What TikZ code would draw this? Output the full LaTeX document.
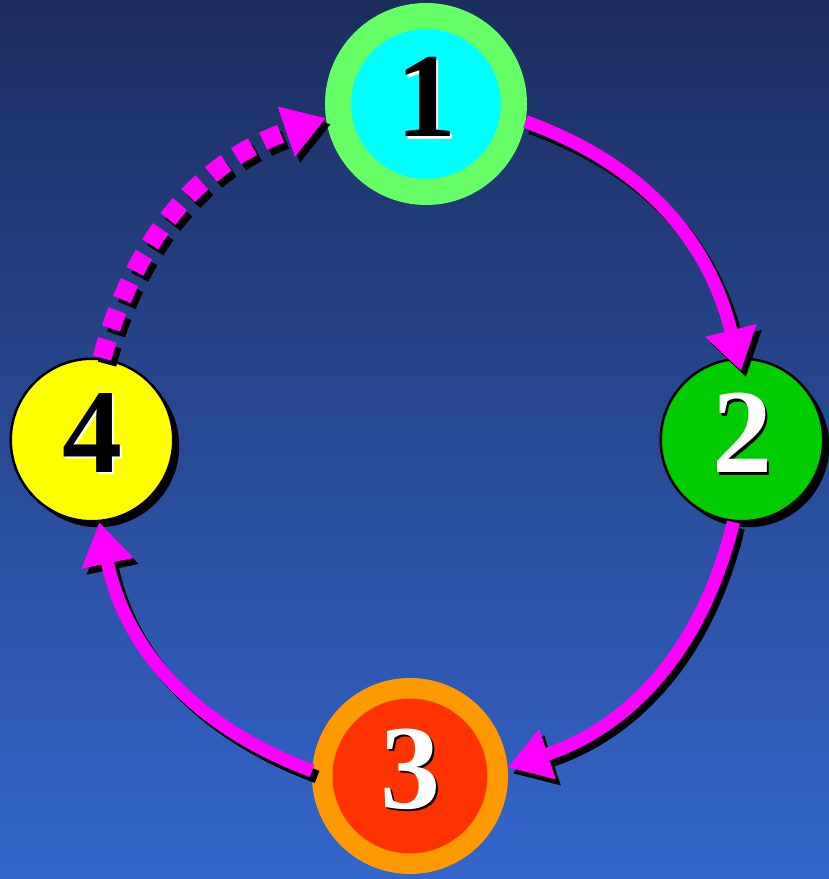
\documentclass[tikz,border=0pt]{standalone}
\usepackage{fontspec}
\setmainfont{Liberation Serif}
\usetikzlibrary{arrows.meta,shadows}
\definecolor{bgtop}{HTML}{1C2D5E}
\definecolor{bgbot}{HTML}{3366CC}
\definecolor{ringgreen}{HTML}{66FF66}
\definecolor{aqua}{HTML}{00FFFF}
\definecolor{leaf}{HTML}{00CC00}
\definecolor{ringorange}{HTML}{FF9900}
\definecolor{redorange}{HTML}{FF3300}
\definecolor{mag}{HTML}{FF00FF}
\definecolor{lemon}{HTML}{FFFF00}
\newcommand{\shdigit}[3]{\makebox[0pt][l]{\hspace*{2.5pt}\smash{\raisebox{-2.5pt}{\color{#1}#3}}}{\color{#2}#3}}
\begin{document}
\begin{tikzpicture}[x=1pt,y=1pt,
  ringone/.style={circle, draw=ringgreen, line width=26pt, fill=aqua, minimum size=176pt, inner sep=0pt},
  ringthree/.style={circle, draw=ringorange, line width=20.5pt, fill=redorange, minimum size=175.5pt, inner sep=0pt},
  flat/.style={circle, draw=black, line width=2.5pt, minimum size=162.5pt, inner sep=0pt,
    drop shadow={shadow xshift=6pt, shadow yshift=-6pt, fill=black, opacity=1}},
  digit/.style={font=\fontsize{120}{120}\selectfont\bfseries, inner sep=0pt, yshift=7pt},
  tipstyle/.style={-{Triangle[length=42pt 0 0, width=50pt 0 0]}},
  flow/.style={line width=13pt, draw=mag, tipstyle},
  dotflow/.style={line width=19pt, draw=mag, dash pattern=on 19pt off 12pt, tipstyle},
  shade/.style={draw=black, transform canvas={xshift=5pt, yshift=-6pt}}
]
\useasboundingbox (0,0) rectangle (829,879);
\fill[top color=bgtop, bottom color=bgbot] (0,0) rectangle (829,879);

% circles
\node[ringone] (n1) at (426,775) {};
\node[flat, fill=leaf] (n2) at (742,439) {};
\node[ringthree] (n3) at (410,103) {};
\node[flat, fill=lemon] (n4) at (92,439) {};

% arrow shadows
\draw[flow, shade, shorten >=-14pt] (n1.-10) to[bend left=28] (n2.93);
\draw[flow, shade] (n2.-96) to[bend left=29] (n3.5);
\draw[flow, shade] (n3.177) to[bend left=29] (n4.-85);
\draw[dotflow, shade] (n4.83) to[bend left=28] (n1.188);

% arrows
\draw[flow, shorten >=-14pt] (n1.-10) to[bend left=28] (n2.93);
\draw[flow] (n2.-96) to[bend left=29] (n3.5);
\draw[flow] (n3.177) to[bend left=29] (n4.-85);
\draw[dotflow] (n4.83) to[bend left=28] (n1.188);

% digits with shadows
\node[digit] (t1) at (n1.center) {\shdigit{white}{black}{1}};
\node[digit] (t2) at (n2.center) {\shdigit{black}{white}{2}};
\node[digit] (t3) at (n3.center) {\shdigit{black}{white}{3}};
\node[digit] (t4) at (n4.center) {\shdigit{white}{black}{4}};
\end{tikzpicture}
\end{document}
